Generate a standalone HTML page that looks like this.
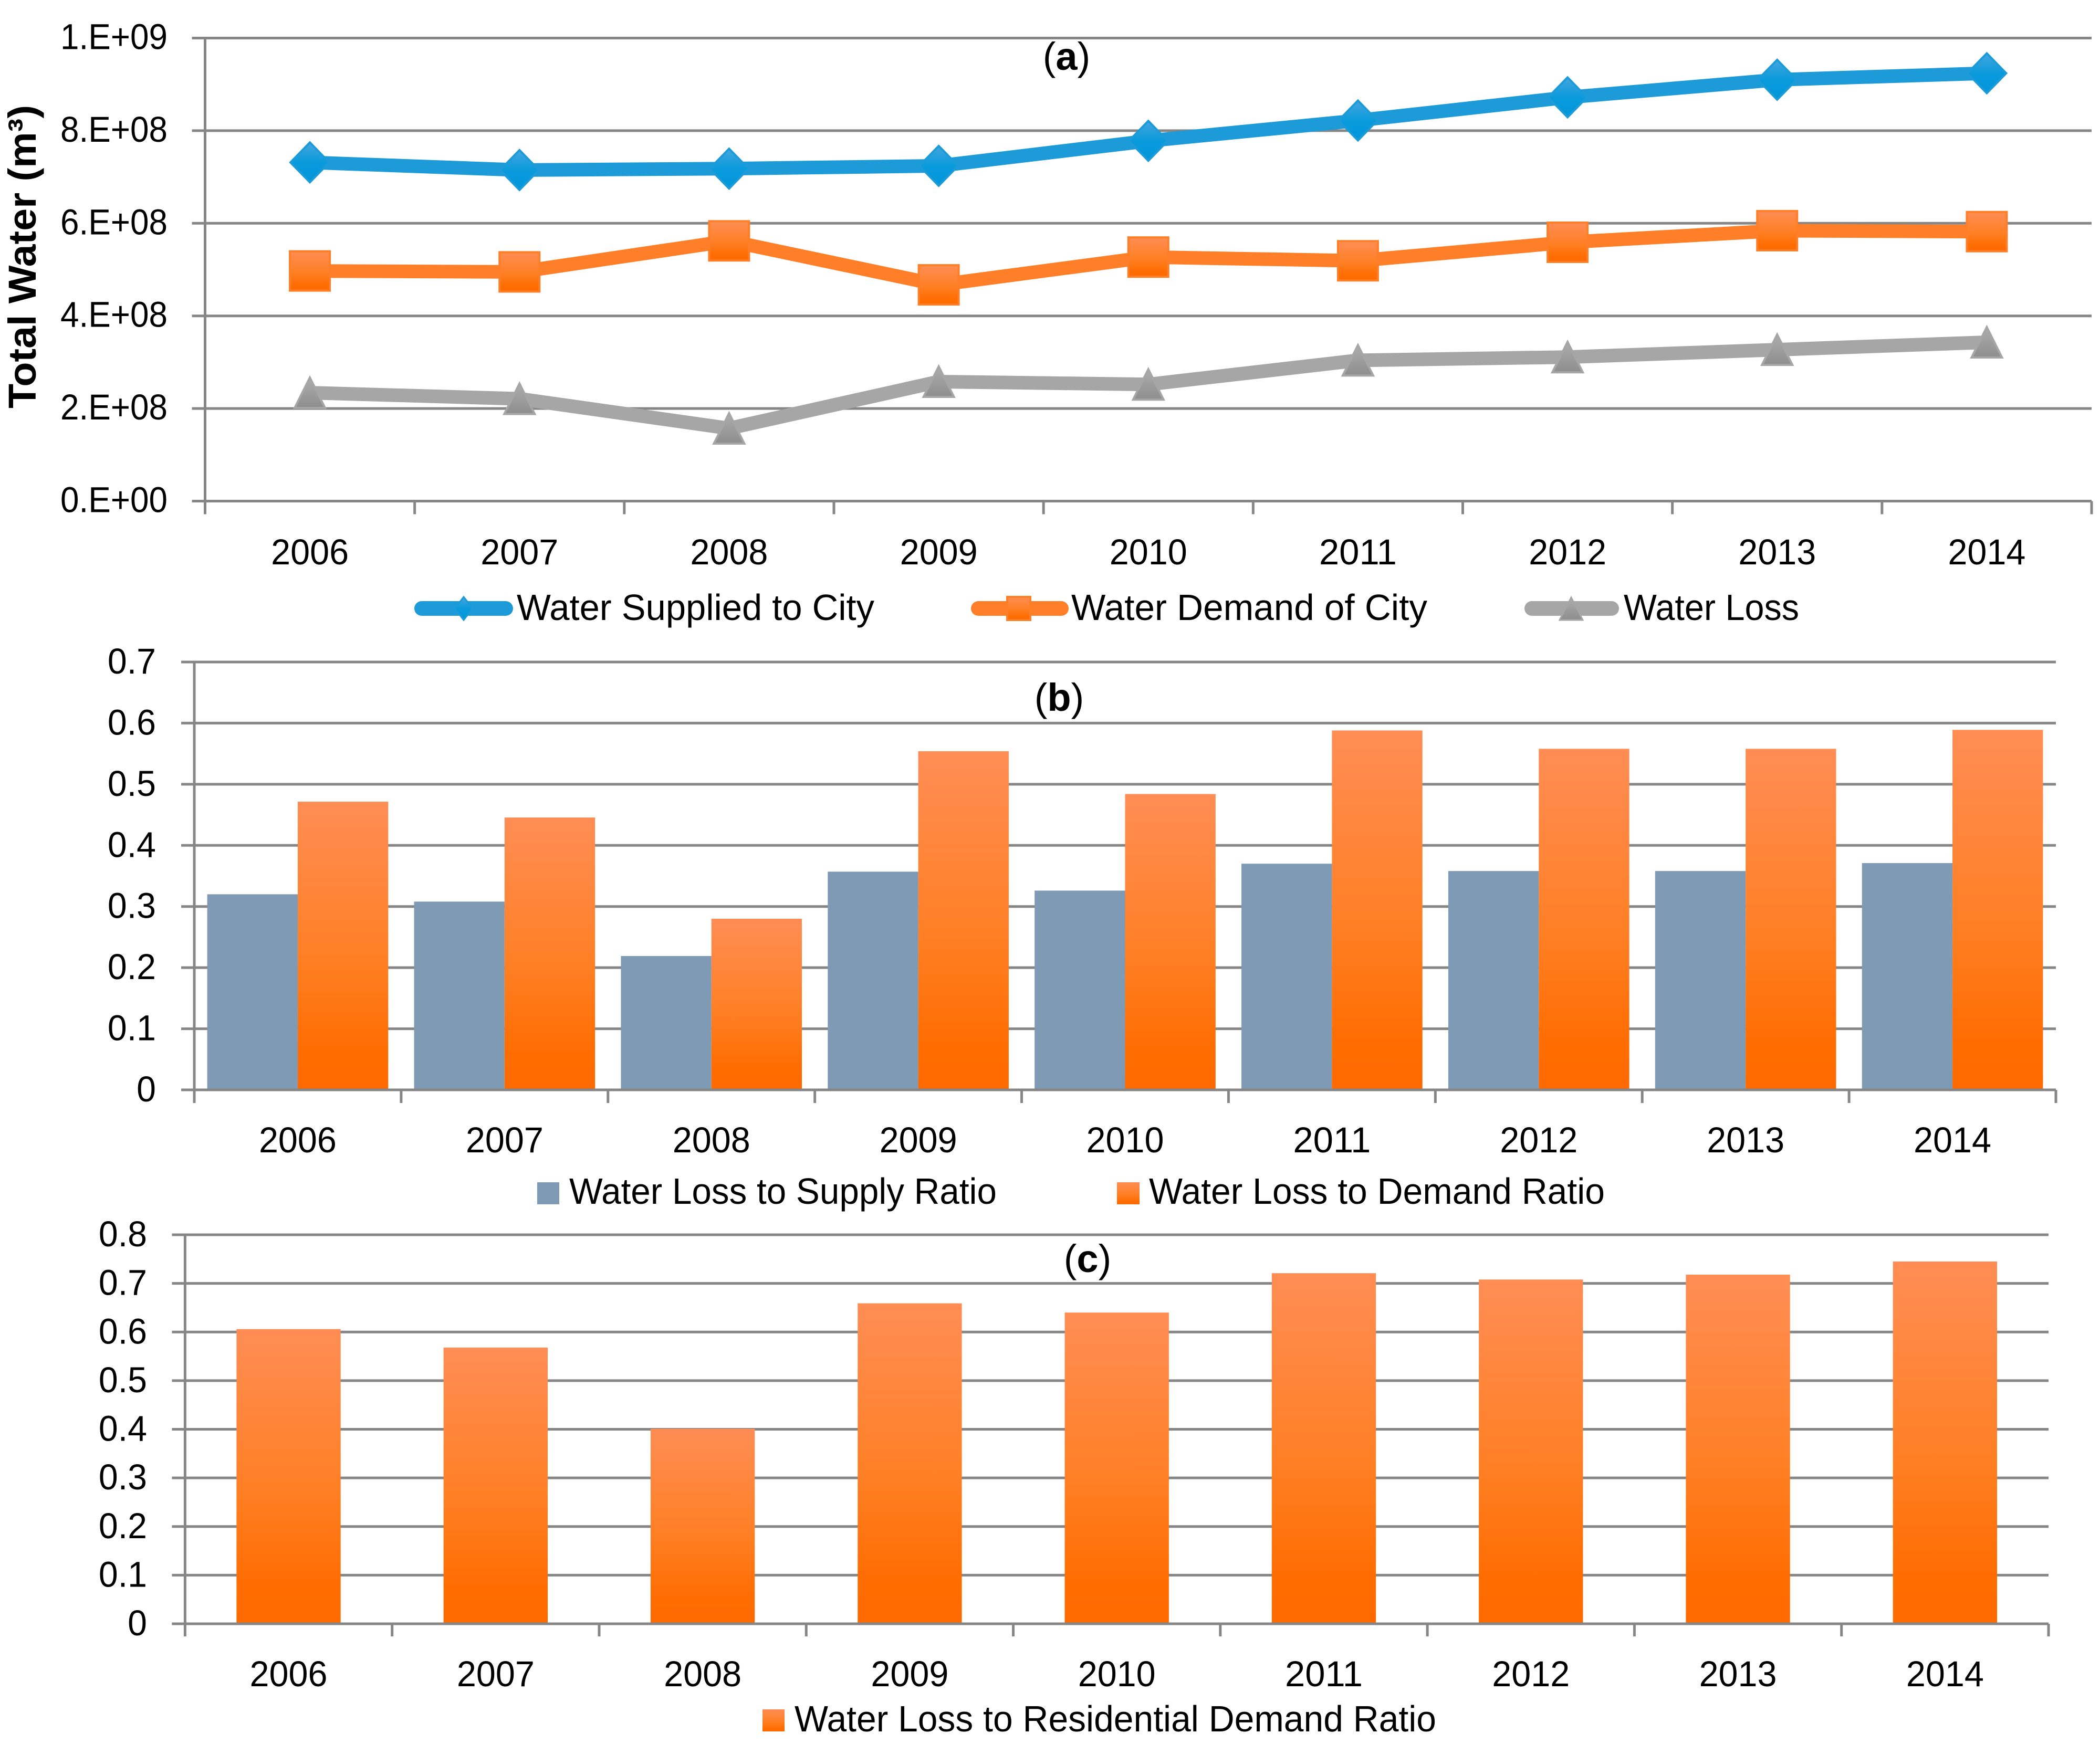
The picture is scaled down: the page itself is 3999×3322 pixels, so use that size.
<!DOCTYPE html>
<html lang="en">
<head>
<meta charset="utf-8">
<title>Water supply, demand and loss 2006-2014</title>
<style>
  html, body { margin: 0; padding: 0; background: #ffffff; }
  svg { display: block; }
  text { font-family: "Liberation Sans", sans-serif; fill: #000000; }
</style>
</head>
<body>
<svg id="figure" xmlns="http://www.w3.org/2000/svg" width="3999" height="3322" viewBox="0 0 3999 3322">
  <defs>
    <linearGradient id="orangeGrad" x1="0" y1="0" x2="0" y2="1">
      <stop offset="0" stop-color="#ff8d54"/>
      <stop offset="0.55" stop-color="#ff7f23"/>
      <stop offset="0.88" stop-color="#ff6c00"/>
      <stop offset="1" stop-color="#ff6a00"/>
    </linearGradient>
    <linearGradient id="blueGrad" x1="0" y1="0" x2="0" y2="1">
      <stop offset="0" stop-color="#45a5de"/>
      <stop offset="0.5" stop-color="#0a9bdc"/>
      <stop offset="1" stop-color="#0096da"/>
    </linearGradient>
    <linearGradient id="grayGrad" x1="0" y1="0" x2="0" y2="1">
      <stop offset="0" stop-color="#adadad"/>
      <stop offset="1" stop-color="#8e8e8e"/>
    </linearGradient>
  </defs>
  <rect x="0" y="0" width="3999" height="3322" fill="#ffffff"/>

  <g id="chartA"></g>
  <g id="chartB"></g>
  <g id="chartC"></g>

  <text transform="translate(68,489) rotate(-90)" text-anchor="middle" font-size="74" font-weight="700" textLength="578" lengthAdjust="spacingAndGlyphs">Total Water (m³)</text>

  <text x="2031" y="133" text-anchor="middle" font-size="74">(<tspan font-weight="700">a</tspan>)</text>
  <text x="2017" y="1354" text-anchor="middle" font-size="74">(<tspan font-weight="700">b</tspan>)</text>
  <text x="2071" y="2423" text-anchor="middle" font-size="74">(<tspan font-weight="700">c</tspan>)</text>

  <g>
    <line x1="803" y1="1159" x2="963" y2="1159" stroke="#1c9bd8" stroke-width="28" stroke-linecap="round"/>
    <polygon points="883,1137 900,1159 883,1181 866,1159" fill="url(#blueGrad)" stroke="#1c9bd8" stroke-width="3"/>
    <text x="984" y="1181" font-size="70" textLength="681" lengthAdjust="spacingAndGlyphs">Water Supplied to City</text>
  </g>
  <g>
    <line x1="1863" y1="1159" x2="2021" y2="1159" stroke="#fe7f28" stroke-width="28" stroke-linecap="round"/>
    <rect x="1918" y="1137" width="44" height="44" fill="url(#orangeGrad)" stroke="#fe7f28" stroke-width="4"/>
    <text x="2040" y="1181" font-size="70" textLength="678" lengthAdjust="spacingAndGlyphs">Water Demand of City</text>
  </g>
  <g>
    <line x1="2917" y1="1159" x2="3069" y2="1159" stroke="#a6a6a6" stroke-width="28" stroke-linecap="round"/>
    <polygon points="2992,1138 3014,1181 2970,1181" fill="url(#grayGrad)" stroke="#a6a6a6" stroke-width="3"/>
    <text x="3092" y="1181" font-size="70" textLength="334" lengthAdjust="spacingAndGlyphs">Water Loss</text>
  </g>

  <g>
    <rect x="1023" y="2252" width="42" height="42" fill="#7f9ab5"/>
    <text x="1084" y="2293" font-size="70" textLength="814" lengthAdjust="spacingAndGlyphs">Water Loss to Supply Ratio</text>
  </g>
  <g>
    <rect x="2127" y="2252" width="43" height="42" fill="url(#orangeGrad)"/>
    <text x="2188" y="2293" font-size="70" textLength="868" lengthAdjust="spacingAndGlyphs">Water Loss to Demand Ratio</text>
  </g>
  <g>
    <rect x="1452" y="3256" width="42" height="42" fill="url(#orangeGrad)"/>
    <text x="1513" y="3298" font-size="70" textLength="1222" lengthAdjust="spacingAndGlyphs">Water Loss to Residential Demand Ratio</text>
  </g>
</svg>

<script>
// ---- Shared categories ----
var years = ['2006', '2007', '2008', '2009', '2010', '2011', '2012', '2013', '2014'];

// ---- Panel (a) data, m3 ----
var waterSupplied = [7.315e8, 7.15e8, 7.18e8, 7.24e8, 7.78e8, 8.22e8, 8.72e8, 9.10e8, 9.24e8];
var waterDemand = [4.97e8, 4.95e8, 5.62e8, 4.67e8, 5.27e8, 5.19e8, 5.59e8, 5.84e8, 5.82e8];
var waterLoss = [2.34e8, 2.21e8, 1.57e8, 2.58e8, 2.52e8, 3.04e8, 3.11e8, 3.27e8, 3.43e8];
var ticksAValues = [0, 2e8, 4e8, 6e8, 8e8, 1e9];
var ticksALabels = ['0.E+00', '2.E+08', '4.E+08', '6.E+08', '8.E+08', '1.E+09'];

// ---- Panel (b) data ----
var lossToSupply = [0.320, 0.308, 0.219, 0.357, 0.326, 0.370, 0.358, 0.358, 0.371];
var lossToDemand = [0.4715, 0.4456, 0.280, 0.554, 0.484, 0.588, 0.558, 0.558, 0.589];
var ticksBValues = [0, 0.1, 0.2, 0.3, 0.4, 0.5, 0.6, 0.7];
var ticksBLabels = ['0', '0.1', '0.2', '0.3', '0.4', '0.5', '0.6', '0.7'];

// ---- Panel (c) data ----
var lossToResidential = [0.606, 0.568, 0.401, 0.659, 0.640, 0.721, 0.708, 0.718, 0.745];
var ticksCValues = [0, 0.1, 0.2, 0.3, 0.4, 0.5, 0.6, 0.7, 0.8];
var ticksCLabels = ['0', '0.1', '0.2', '0.3', '0.4', '0.5', '0.6', '0.7', '0.8'];

var NS = 'http://www.w3.org/2000/svg';
var AXIS = '#868686';
var LABEL_SIZE = 69;
var LABEL_SQUEEZE = 0.96;

function mk(parent, tag, attrs) {
  var node = document.createElementNS(NS, tag);
  for (var k in attrs) { node.setAttribute(k, attrs[k]); }
  parent.appendChild(node);
  return node;
}

function squeeze(node, width) {
  var w = width || node.getComputedTextLength() * LABEL_SQUEEZE;
  node.setAttribute('textLength', w);
  node.setAttribute('lengthAdjust', 'spacingAndGlyphs');
}

function makeScales(x0, x1, yBottom, yTop, vMax) {
  return {
    x0: x0, x1: x1, yBottom: yBottom, yTop: yTop,
    band: (x1 - x0) / years.length,
    cx: function (i) { return x0 + (x1 - x0) / years.length * (i + 0.5); },
    y: function (v) { return yBottom - v / vMax * (yBottom - yTop); }
  };
}

function drawAxes(g, s, tickVals, tickLabels, opt) {
  var el, i;
  for (i = 0; i < tickVals.length; i++) {
    var yy = s.y(tickVals[i]);
    el = mk(g, 'line', { x1: s.x0 - 25, y1: yy, x2: s.x1, y2: yy, stroke: AXIS, 'stroke-width': 5 });
    
    
    el = mk(g, 'text', { x: opt.labelRight, y: yy + opt.labelDy, 'text-anchor': 'end', 'font-size': LABEL_SIZE });
    el.textContent = tickLabels[i];
    squeeze(el, opt.labelWidth);
    
    
  }
  el = mk(g, 'line', { x1: s.x0, y1: s.yTop - 2.5, x2: s.x0, y2: s.yBottom + opt.tickLen, stroke: AXIS, 'stroke-width': 5 });
  
  
  for (i = 1; i <= years.length; i++) {
    var tx = s.x0 + s.band * i;
    el = mk(g, 'line', { x1: tx, y1: s.yBottom, x2: tx, y2: s.yBottom + opt.tickLen, stroke: AXIS, 'stroke-width': 5 });
    
    
  }
  for (i = 0; i < years.length; i++) {
    el = mk(g, 'text', { x: s.cx(i), y: opt.catBaseline, 'text-anchor': 'middle', 'font-size': LABEL_SIZE });
    el.textContent = years[i];
    squeeze(el, 148);
    
    
  }
}

function drawXBaseline(g, s) {
  var el = mk(g, 'line', { x1: s.x0 - 25, y1: s.yBottom, x2: s.x1, y2: s.yBottom, stroke: AXIS, 'stroke-width': 5 });
  
  
}

function drawPolyline(g, s, values, color) {
  var pts = [];
  for (var i = 0; i < values.length; i++) { pts.push(s.cx(i) + ',' + s.y(values[i])); }
  var el = mk(g, 'polyline', { points: pts.join(' '), fill: 'none', stroke: color, 'stroke-width': 26, 'stroke-linejoin': 'round' });
  
  
}

// ---- Panel (a) ----
var gA = document.getElementById('chartA');
var sA = makeScales(390.5, 3983, 954.5, 72.5, 1e9);
drawAxes(gA, sA, ticksAValues, ticksALabels, { labelRight: 319, labelDy: 21, labelWidth: 204, tickLen: 25, catBaseline: 1075 });
drawPolyline(gA, sA, waterLoss, '#a6a6a6');
drawPolyline(gA, sA, waterSupplied, '#1c9bd8');
drawPolyline(gA, sA, waterDemand, '#fe7f28');

waterSupplied.forEach(function (v, i) {
  var cx = sA.cx(i), cy = sA.y(v);
  var el = mk(gA, 'polygon', {
    points: cx + ',' + (cy - 38) + ' ' + (cx + 37) + ',' + cy + ' ' + cx + ',' + (cy + 38) + ' ' + (cx - 37) + ',' + cy,
    fill: 'url(#blueGrad)', stroke: '#1c9bd8', 'stroke-width': 4
  });
  
  
});
waterDemand.forEach(function (v, i) {
  var cx = sA.cx(i), cy = sA.y(v);
  var el = mk(gA, 'rect', {
    x: cx - 38, y: cy - 37.5, width: 76, height: 75,
    fill: 'url(#orangeGrad)', stroke: '#fe7f28', 'stroke-width': 4
  });
  
  
});
waterLoss.forEach(function (v, i) {
  var cx = sA.cx(i), cy = sA.y(v);
  var el = mk(gA, 'polygon', {
    points: cx + ',' + (cy - 29) + ' ' + (cx + 29) + ',' + (cy + 29) + ' ' + (cx - 29) + ',' + (cy + 29),
    fill: 'url(#grayGrad)', stroke: '#a6a6a6', 'stroke-width': 4
  });
  
  
});

// ---- Panel (b) ----
var gB = document.getElementById('chartB');
var sB = makeScales(370, 3915, 2076, 1261, 0.7);
drawAxes(gB, sB, ticksBValues, ticksBLabels, { labelRight: 297, labelDy: 22, tickLen: 25, catBaseline: 2195 });
var barWidthB = sB.band * 0.4375;
lossToSupply.forEach(function (v, i) {
  var el = mk(gB, 'rect', { x: sB.cx(i) - barWidthB, y: sB.y(v), width: barWidthB, height: sB.yBottom - sB.y(v), fill: '#7f9ab5' });
  
  
});
lossToDemand.forEach(function (v, i) {
  var el = mk(gB, 'rect', { x: sB.cx(i), y: sB.y(v), width: barWidthB, height: sB.yBottom - sB.y(v), fill: 'url(#orangeGrad)' });
  
  
});
drawXBaseline(gB, sB);

// ---- Panel (c) ----
var gC = document.getElementById('chartC');
var sC = makeScales(352.4, 3901, 3093, 2352, 0.8);
drawAxes(gC, sC, ticksCValues, ticksCLabels, { labelRight: 280, labelDy: 22, tickLen: 24, catBaseline: 3212 });
var barWidthC = sC.band * 0.503;
lossToResidential.forEach(function (v, i) {
  var el = mk(gC, 'rect', { x: sC.cx(i) - barWidthC / 2, y: sC.y(v), width: barWidthC, height: sC.yBottom - sC.y(v), fill: 'url(#orangeGrad)' });
  
  
});
drawXBaseline(gC, sC);
</script>
</body>
</html>
